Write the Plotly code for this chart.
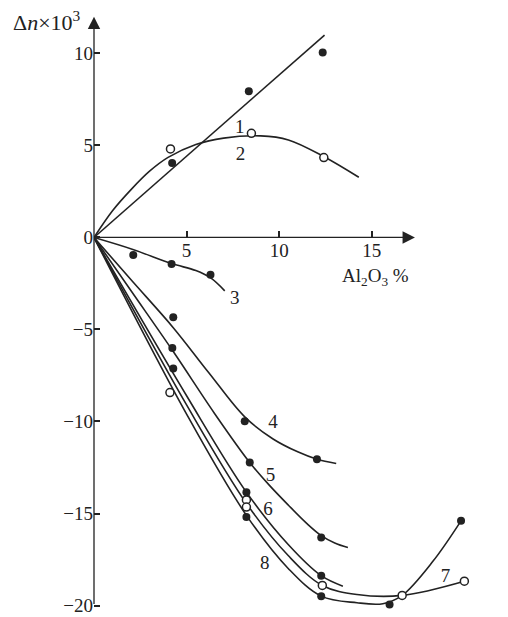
import plotly.graph_objects as go

# curve lines (Al2O3 %, delta n x 1000)
c1_x = [0, 12.45]
c1_y = [0, 11.0]
c2_x = [0, 1, 2, 3, 4, 5.5, 7, 9, 10.5, 12.4, 14.3]
c2_y = [0, 1.45, 2.6, 3.6, 4.35, 5.05, 5.4, 5.52, 5.3, 4.4, 3.27]
c3_x = [0, 2.1, 4.2, 5.5, 6.3, 7.06]
c3_y = [0, -0.65, -1.42, -1.8, -2.2, -2.9]
c4_x = [0, 2, 4.28, 6.2, 8.14, 9.67, 11, 12.04, 13.08]
c4_y = [0, -2.3, -4.9, -7.35, -9.75, -10.95, -11.65, -12.05, -12.28]
c5_x = [0, 2, 4.28, 6.5, 8.41, 9.5, 10.5, 11.5, 12.27, 13, 13.71]
c5_y = [0, -2.9, -6.2, -9.55, -12.23, -13.5, -14.55, -15.55, -16.2, -16.6, -16.85]
c6_x = [0, 5, 8.23, 10.5, 12.27, 13.44]
c6_y = [0, -8.6, -13.84, -16.7, -18.38, -18.95]
c7_x = [0, 5, 8.23, 10.5, 12.33, 14.2, 16.64, 20.0]
c7_y = [0, -9.1, -14.45, -17.3, -18.91, -19.4, -19.45, -18.68]
c8_x = [0, 5, 8.23, 10.5, 12.27, 14.2, 15.6, 16.64, 18.3, 19.82]
c8_y = [0, -9.6, -15.1, -18.0, -19.49, -19.85, -19.9, -19.45, -17.6, -15.4]

# measured points: filled and open circles
fill_x = [4.22, 8.36, 12.35, 2.12, 4.19, 6.29, 4.28, 8.14, 12.04,
          4.23, 8.41, 12.27, 4.28, 8.23, 12.27, 8.23, 12.27, 15.96, 19.82]
fill_y = [4.04, 7.95, 10.05, -0.95, -1.44, -2.02, -4.34, -9.99, -12.05,
          -6.01, -12.23, -16.3, -7.12, -13.84, -18.38, -15.19, -19.49, -19.94, -15.4]
open_x = [4.13, 8.5, 12.41, 4.1, 8.23, 8.23, 12.33, 16.64, 20.0]
open_y = [4.81, 5.66, 4.34, -8.43, -14.26, -14.65, -18.91, -19.45, -18.68]

lab_txt = ["1", "2", "3", "4", "5", "6", "7", "8"]
lab_x = [7.87, 7.91, 7.6, 9.67, 9.53, 9.4, 18.98, 9.22]
lab_y = [5.96, 4.45, -3.37, -10.1, -12.98, -14.8, -18.46, -17.75]

ytick_vals = [-20, -15, -10, -5, 0, 5, 10]
ytick_text = ["\u221220", "\u221215", "\u221210", "\u22125", "0", "5", "10"]
xtick_vals = [5, 10, 15]

ink = "#222222"
font = "Liberation Serif"
xr = [0, 21.6]
yr = [-20.57, 12.85]

fig = go.Figure()

for cx, cy in [(c1_x, c1_y), (c2_x, c2_y), (c3_x, c3_y), (c4_x, c4_y),
               (c5_x, c5_y), (c6_x, c6_y), (c7_x, c7_y), (c8_x, c8_y)]:
    fig.add_trace(go.Scatter(x=cx, y=cy, mode="lines",
                             line=dict(color=ink, width=1.6, shape="spline"),
                             hoverinfo="skip"))

fig.add_trace(go.Scatter(x=fill_x, y=fill_y, mode="markers", cliponaxis=False,
                         marker=dict(size=8, color=ink)))
fig.add_trace(go.Scatter(x=open_x, y=open_y, mode="markers", cliponaxis=False,
                         marker=dict(size=8, color="white",
                                     line=dict(color=ink, width=1.5))))

fig.add_trace(go.Scatter(x=lab_x, y=lab_y, mode="text", text=lab_txt,
                         textfont=dict(family=font, size=19, color=ink),
                         cliponaxis=False))

# axes drawn as arrows through the origin
fig.add_annotation(x=0, y=12.0, ax=0, ay=-20, xref="x", yref="y",
                   axref="x", ayref="y", text="", showarrow=True,
                   arrowhead=2, arrowsize=1.9, arrowwidth=1.3, arrowcolor=ink)
fig.add_annotation(x=17.33, y=0, ax=0, ay=0, xref="x", yref="y",
                   axref="x", ayref="y", text="", showarrow=True,
                   arrowhead=2, arrowsize=1.9, arrowwidth=1.3, arrowcolor=ink)

fig.add_annotation(x=-0.028, y=11.75, xref="paper", yref="y", xanchor="right",
                   text="\u0394<i>n</i>\u00d710<sup>3</sup>", showarrow=False,
                   font=dict(family=font, size=22, color=ink))
fig.add_annotation(x=15.2, y=-2.13, xref="x", yref="y",
                   text="Al<sub>2</sub>O<sub>3</sub> %", showarrow=False,
                   font=dict(family=font, size=19, color=ink))

fig.update_layout(
    width=508, height=617,
    margin=dict(l=94, r=14, t=1, b=1),
    showlegend=False,
    plot_bgcolor="white", paper_bgcolor="white",
    font=dict(family=font, size=19, color=ink),
)
fig.update_xaxes(range=xr, tickvals=xtick_vals, ticks="inside", ticklen=6,
                 tickwidth=1.5, tickcolor=ink, showline=False, showgrid=False,
                 zeroline=False, anchor="free",
                 position=(0 - yr[0]) / (yr[1] - yr[0]))
fig.update_yaxes(range=yr, tickvals=ytick_vals, ticktext=ytick_text,
                 ticks="inside", ticklen=6, tickwidth=1.5, tickcolor=ink,
                 showline=False, showgrid=False, zeroline=False)

fig.write_html("out.html", config={"displayModeBar": False},
               post_script="document.body.style.margin='0';document.body.style.overflow='hidden';")
